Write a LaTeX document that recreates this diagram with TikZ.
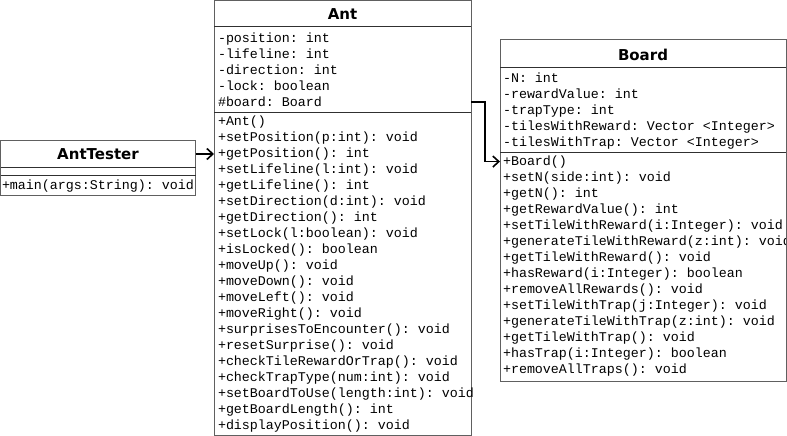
\documentclass[tikz,border=0pt]{standalone}
\usepackage{fontspec}
\setmonofont{Liberation Mono}
\newfontfamily\titlefont{DejaVu Sans}
\usetikzlibrary{arrows.meta}
\definecolor{bordercol}{HTML}{606060}
\definecolor{sepcol}{HTML}{303030}
\begin{document}
\begin{tikzpicture}[x=1pt,y=-1pt,
  box/.style={draw=bordercol, fill=white, line width=1pt, anchor=north west, inner sep=0pt, outer sep=0pt},
  title/.style={anchor=north west, inner sep=0pt, outer sep=0pt, font=\titlefont\bfseries\fontsize{15}{18}\selectfont},
  sep/.style={draw=sepcol, line width=1pt},
  mono/.style={font=\fontsize{13.33}{16}\selectfont\ttfamily, anchor=base west, inner sep=0pt, outer sep=0pt},
  conn/.style={draw=black, line width=1.8pt, -{Straight Barb[length=6pt,width=11pt,line width=1.6pt]}}
]
\useasboundingbox (0,0) rectangle (787,436);

% ---------- AntTester ----------
\node[box, minimum width=195pt, minimum height=55pt] (tester) at (0.5,140) {};
\node[title, minimum width=195pt, minimum height=27pt] (tT) at (0.5,140.5) {AntTester};
\draw[sep] (0.5,167) -- (195.5,167);
\draw[sep] (0.5,175) -- (195.5,175);
\node[mono] (tM1) at (2,189.5) {+main(args:String): void};

% ---------- Ant ----------
\node[box, minimum width=257pt, minimum height=435pt] (ant) at (214,0.5) {};
\node[title, minimum width=257pt, minimum height=27pt] (antT) at (214,1) {Ant};
\draw[sep] (214,27) -- (471,27);
\draw[sep] (214,112) -- (471,112);
\foreach \t [count=\i] in {{-position: int},{-lifeline: int},{-direction: int},{-lock: boolean},{\#board: Board}}
  \node[mono] (antA\i) at (218,{42.5+16*(\i-1)}) {\t};
\foreach \t [count=\i] in {{+Ant()},{+setPosition(p:int): void},{+getPosition(): int},{+setLifeline(l:int): void},{+getLifeline(): int},{+setDirection(d:int): void},{+getDirection(): int},{+setLock(l:boolean): void},{+isLocked(): boolean},{+moveUp(): void},{+moveDown(): void},{+moveLeft(): void},{+moveRight(): void},{+surprisesToEncounter(): void},{+resetSurprise(): void},{+checkTileRewardOrTrap(): void},{+checkTrapType(num:int): void},{+setBoardToUse(length:int): void},{+getBoardLength(): int},{+displayPosition(): void}}
  \node[mono] (antM\i) at (218,{125.5+16*(\i-1)}) {\t};

% ---------- Board ----------
\node[box, minimum width=286pt, minimum height=341pt] (board) at (500,40) {};
\node[title, minimum width=286pt, minimum height=28pt] (boardT) at (500,40.5) {Board};
\draw[sep] (500,68) -- (786,68);
\draw[sep] (500,152) -- (786,152);
\foreach \t [count=\i] in {{-N: int},{-rewardValue: int},{-trapType: int},{-tilesWithReward: Vector <Integer>},{-tilesWithTrap: Vector <Integer>}}
  \node[mono] (boardA\i) at (503,{82.5+16*(\i-1)}) {\t};
\foreach \t [count=\i] in {{+Board()},{+setN(side:int): void},{+getN(): int},{+getRewardValue(): int},{+setTileWithReward(i:Integer): void},{+generateTileWithReward(z:int): void},{+getTileWithReward(): void},{+hasReward(i:Integer): boolean},{+removeAllRewards(): void},{+setTileWithTrap(j:Integer): void},{+generateTileWithTrap(z:int): void},{+getTileWithTrap(): void},{+hasTrap(i:Integer): boolean},{+removeAllTraps(): void}}
  \node[mono] (boardM\i) at (503,{165+16*(\i-1)}) {\t};
\draw[draw=bordercol, line width=1pt] (board.north east) -- (board.south east);

% ---------- connectors ----------
\draw[conn] (tT.east) -- (tT.east -| ant.west);
\draw[conn] (antA5 -| ant.east) -- ++(14,0) |- (boardM1 -| board.west);
\end{tikzpicture}
\end{document}
